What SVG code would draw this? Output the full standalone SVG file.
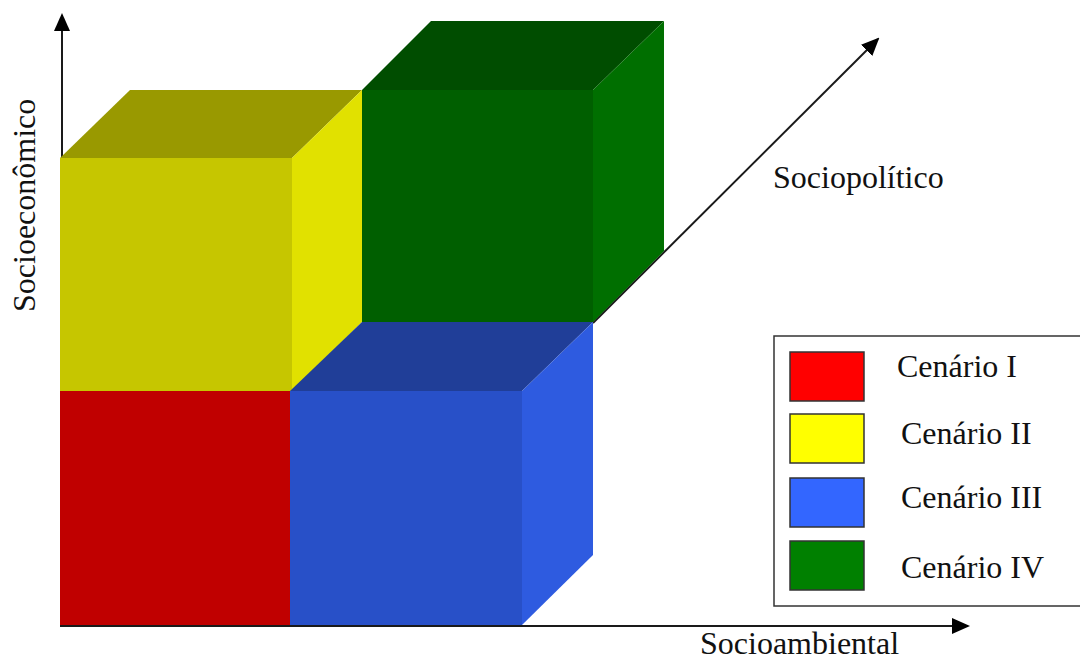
<svg xmlns="http://www.w3.org/2000/svg" width="1080" height="662" viewBox="0 0 1080 662">
<style>
.ax{stroke:#1a1a1a;stroke-width:2;fill:none;marker-end:url(#ah)}
.lbl{font-family:"Liberation Serif","Times New Roman",serif;font-size:32px;fill:#111}
.sw{stroke:#333;stroke-width:1.5}
</style>
<defs>
<marker id="ah" viewBox="0 0 18 16" refX="16" refY="8" markerWidth="18" markerHeight="16" markerUnits="userSpaceOnUse" orient="auto">
<path d="M0,0 L18,8 L0,16 z" fill="#000"/>
</marker>
</defs>
<rect width="1080" height="662" fill="#fff"/>
<g id="connectors">
<line class="ax" x1="62" y1="160" x2="62" y2="15"/>
<line class="ax" x1="60" y1="626" x2="968" y2="626"/>
<line class="ax" x1="593" y1="323" x2="878" y2="39"/>
</g>
<g id="cube-IV">
<polygon points="362,90 431,21 664,21 593,90" fill="#004d00"/>
<polygon points="593,90 664,21 664,251 593,322" fill="#006f00"/>
<rect x="362" y="90" width="231" height="232" fill="#005f00"/>
</g>
<g id="cube-II">
<polygon points="60,158 130,90 362,90 292,158" fill="#999900"/>
<polygon points="292,158 362,90 362,322 292,391" fill="#e1e100"/>
<rect x="60" y="158" width="232" height="233" fill="#c6c600"/>
</g>
<g id="cube-III">
<polygon points="290,391 362,322 593,322 522,391" fill="#203e98"/>
<polygon points="522,391 593,322 593,555 522,625" fill="#2e5be0"/>
<rect x="290" y="391" width="232" height="234" fill="#2850c8"/>
</g>
<g id="cube-I">
<rect x="60" y="391" width="230" height="234" fill="#c00000"/>
</g>
<g id="axis-labels">
<text class="lbl" x="35" y="312" transform="rotate(-90 35 312)">Socioeconômico</text>
<text class="lbl" x="773" y="188">Sociopolítico</text>
<text class="lbl" x="700" y="654">Socioambiental</text>
</g>
<g id="legend">
<rect x="774" y="336" width="310" height="270" fill="#fff" stroke="#333" stroke-width="1.5"/>
<g id="legend-I"><rect class="sw" x="790" y="352" width="74" height="49" fill="#ff0000"/><text class="lbl" x="897" y="377">Cenário I</text></g>
<g id="legend-II"><rect class="sw" x="790" y="414" width="74" height="49" fill="#ffff00"/><text class="lbl" x="901" y="444">Cenário II</text></g>
<g id="legend-III"><rect class="sw" x="790" y="478" width="74" height="49" fill="#3366ff"/><text class="lbl" x="901" y="508">Cenário III</text></g>
<g id="legend-IV"><rect class="sw" x="790" y="541" width="74" height="49" fill="#008000"/><text class="lbl" x="901" y="578">Cenário IV</text></g>
</g>
</svg>
